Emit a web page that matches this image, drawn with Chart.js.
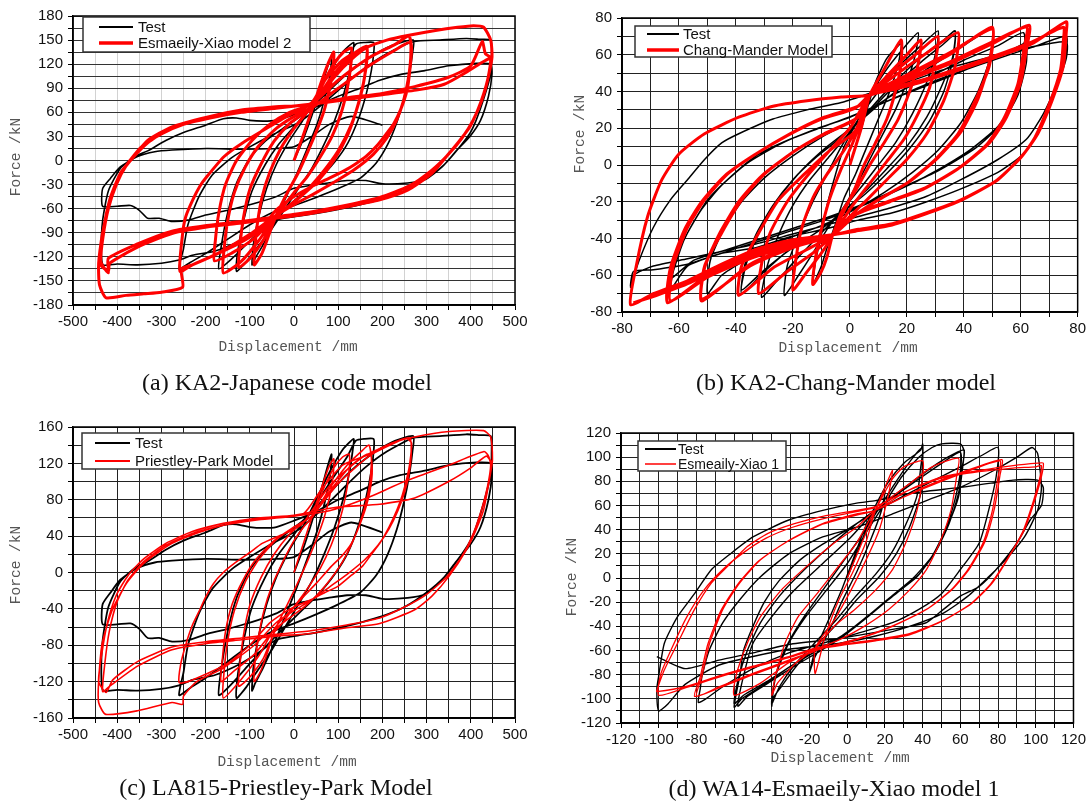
<!DOCTYPE html>
<html>
<head>
<meta charset="utf-8">
<script src="https://cdn.jsdelivr.net/npm/chart.js@4.4.1/dist/chart.umd.min.js"></script>
<style>
body{margin:0;background:#fff}
#page{position:relative;width:1089px;height:801px;overflow:hidden;background:#fff}
canvas{position:absolute}
.t{position:absolute;white-space:nowrap;transform:translate(-50%,-50%)}
.ax{font:14.5px "Liberation Mono","DejaVu Sans Mono",monospace;color:#555}
.yt{transform:translate(-50%,-50%) rotate(-90deg)}
.cap{font:24px "Liberation Serif","Times New Roman",serif;color:#111}
</style>
</head>
<body>
<div id="page">
<canvas id="cA" width="545" height="400" style="left:0;top:0"></canvas>
<canvas id="cB" width="544" height="400" style="left:545px;top:0"></canvas>
<canvas id="cC" width="545" height="401" style="left:0;top:400px"></canvas>
<canvas id="cD" width="544" height="401" style="left:545px;top:400px"></canvas>

<div class="t ax yt" style="left:16px;top:157px">Force /kN</div>
<div class="t ax" style="left:288px;top:347px">Displacement /mm</div>
<div class="t cap" style="left:287px;top:382px">(a) KA2-Japanese code model</div>

<div class="t ax yt" style="left:580px;top:134px">Force /kN</div>
<div class="t ax" style="left:848px;top:348px">Displacement /mm</div>
<div class="t cap" style="left:846px;top:382px">(b) KA2-Chang-Mander model</div>

<div class="t ax yt" style="left:16px;top:565px">Force /kN</div>
<div class="t ax" style="left:287px;top:762px">Displacement /mm</div>
<div class="t cap" style="left:276px;top:787px">(c) LA815-Priestley-Park Model</div>

<div class="t ax yt" style="left:572px;top:577px">Force /kN</div>
<div class="t ax" style="left:840px;top:758px">Displacement /mm</div>
<div class="t cap" style="left:834px;top:788px">(d) WA14-Esmaeily-Xiao model 1</div>
</div>

<script>
// displacement (mm), force (kN), one half cycle per line

// test curve of (a), the same record appears in (c)
const testKA = [
  [0,0],[20,25],[40,55],[60,88],[75,115],[85,130],
  [82,108],[70,78],[52,45],[30,15],[5,-18],[-20,-48],[-45,-78],[-70,-105],[-88,-122],[-95,-130],
  [-92,-105],[-80,-70],[-62,-35],[-40,-5],[-10,25],[20,50],[50,80],[80,110],[110,135],[135,147],
  [133,135],[126,112],[112,82],[92,50],[68,20],[40,-10],[10,-35],[-20,-60],[-50,-85],[-80,-106],[-108,-126],[-130,-138],
  [-127,-112],[-114,-75],[-95,-38],[-65,-5],[-35,20],[0,42],[40,68],[80,98],[120,127],[140,145],[160,147],[180,147],
  [181,138],[175,112],[163,82],[146,52],[122,22],[92,-2],[55,-24],[15,-43],[-25,-62],[-65,-82],[-105,-103],[-140,-122],[-170,-135],
  [-165,-108],[-150,-65],[-130,-28],[-100,3],[-65,24],[-25,40],[20,57],[70,82],[120,108],[170,128],[220,143],[270,150],
  [268,133],[261,108],[249,78],[233,48],[212,20],[186,-3],[150,-22],[100,-35],[50,-46],[0,-56],[-50,-65],[-100,-80],[-150,-98],[-200,-116],[-235,-127],[-260,-135],
  [-250,-110],[-240,-80],[-215,-45],[-185,-18],[-140,4],[-100,17],[-45,33],[10,47],[60,68],[110,92],[160,115],[210,133],[270,148],[330,150],[390,152],[420,151],[445,150],
  [447,130],[445,108],[430,78],[412,50],[398,34],[372,15],[340,-5],[300,-22],[250,-38],[200,-48],[150,-55],[100,-61],[50,-66],[0,-70],[-40,-74],[-80,-88],[-120,-100],[-180,-113],[-230,-118],[-260,-124],[-300,-128],[-354,-130],[-400,-129],[-432,-130],
  [-436,-110],[-433,-75],[-420,-38],[-393,-10],[-360,5],[-331,12],[-290,25],[-250,35],[-200,44],[-160,52],[-130,53],[-100,50],[-70,49],[-40,50],[0,57],[50,67],[100,80],[150,90],[194,100],[240,107],[296,112],[350,118],[413,121],[445,120],
  [448,108],[440,80],[422,50],[398,30],[367,12],[335,-8],[296,-24],[257,-28],[200,-29],[163,-25],[120,-25],[77,-28],[38,-31],[-2,-35],[-40,-45],[-80,-52],[-120,-58],[-158,-63],[-200,-68],[-237,-74],[-276,-76],[-305,-72],[-331,-72],[-350,-62],[-370,-56],[-400,-57],[-433,-57],
  [-433,-35],[-415,-22],[-393,-8],[-354,5],[-315,11],[-276,13],[-197,15],[-119,14],[-41,15],[0,17],[40,30],[80,45],[130,55],[200,44]
];

const modelA = [
  [0,0],[20,30],[40,62],[60,95],[78,122],[90,135],
  [88,112],[80,88],[68,62],[52,38],[32,12],[10,-15],[-15,-40],[-40,-68],[-55,-90],[-72,-115],[-90,-130],
  [-88,-105],[-82,-75],[-72,-45],[-55,-15],[-30,15],[0,40],[25,57],[45,70],[65,95],[90,120],[112,135],[130,140],
  [128,116],[120,88],[106,58],[86,30],[60,5],[30,-20],[0,-40],[-25,-58],[-45,-72],[-70,-100],[-100,-122],[-125,-133],
  [-122,-105],[-114,-70],[-100,-36],[-75,-5],[-45,24],[-10,46],[20,58],[45,70],[80,100],[120,126],[148,138],[165,142],
  [163,118],[155,90],[140,60],[120,30],[90,0],[55,-25],[15,-45],[-20,-60],[-45,-72],[-80,-100],[-120,-126],[-160,-140],
  [-158,-110],[-150,-75],[-135,-40],[-110,-8],[-80,18],[-40,40],[0,55],[40,67],[90,103],[130,126],[165,140],
  [162,112],[150,80],[130,45],[100,12],[60,-18],[20,-42],[-20,-60],[-45,-72],[-90,-97],[-140,-115],[-180,-125],
  [-178,-100],[-170,-65],[-155,-30],[-130,0],[-95,25],[-55,45],[-10,60],[40,70],[100,100],[170,128],[230,145],[260,155],
  [266,140],[262,112],[256,88],[241,63],[225,45],[210,34],[190,20],[163,5],[140,-4],[116,-12],[80,-22],[38,-33],[0,-45],[-41,-62],[-80,-88],[-130,-105],[-180,-118],[-230,-130],[-258,-138],
  [-252,-91],[-245,-70],[-229,-49],[-213,-32],[-197,-20],[-158,5],[-119,21],[-56,42],[-2,59],[38,65],[100,90],[170,118],[230,138],[262,147],
  [264,128],[258,100],[248,75],[232,50],[210,28],[180,8],[140,-10],[100,-24],[50,-40],[0,-55],[-45,-70],[-100,-92],[-170,-115],[-230,-130],[-255,-135],
  [-252,-158],[-300,-164],[-340,-166],[-380,-168],[-425,-171],[-440,-155],[-442,-128],
  [-433,-91],[-417,-49],[-393,-16],[-370,0],[-331,25],[-276,42],[-197,54],[-119,63],[-41,67],[38,71],[70,100],[110,125],[160,140],[210,150],[260,156],[320,162],[370,166],[406,168],[429,166],[445,150],
  [448,129],[440,105],[429,83],[415,62],[398,42],[375,25],[351,9],[312,-16],[257,-37],[194,-49],[116,-58],[38,-66],[-41,-72],[-119,-78],[-197,-83],[-276,-91],[-354,-108],[-417,-128],[-420,-138],[-440,-128],
  [-436,-100],[-425,-70],[-410,-40],[-390,-15],[-365,3],[-331,22],[-290,37],[-240,47],[-180,55],[-119,61],[-41,66],[38,70],[120,78],[194,83],[273,92],[351,104],[400,118],[426,148],[433,133],
  [445,128],[438,100],[425,75],[405,50],[380,28],[350,8],[312,-12],[260,-32],[194,-46],[116,-56],[38,-64],[-41,-70],[-119,-76],[-197,-81],[-276,-88],[-354,-104],[-420,-122],[-420,-140],[-437,-126],
  [-432,-95],[-420,-60],[-402,-30],[-378,-5],[-345,17],[-300,33],[-250,45],[-190,53],[-119,60],[-41,65],[38,70],[120,76],[200,82],[280,88],[340,95],[390,110],[425,122],[445,128]
];

const testB = [
  [0,0],[3,15],[6,30],[9,45],[13,58],[18,66],
  [17,55],[14,40],[10,25],[6,10],[2,-5],[-2,-18],[-5,-32],[-8,-45],[-10,-55],[-13,-65],
  [-12,-52],[-10,-38],[-8,-22],[-5,-5],[-2,10],[2,22],[6,35],[12,50],[18,62],[24,72],
  [23,60],[20,45],[16,30],[11,15],[6,0],[2,-12],[-3,-25],[-8,-35],[-13,-48],[-18,-60],[-23,-71],
  [-22,-55],[-18,-38],[-13,-20],[-8,-5],[-3,10],[3,25],[10,40],[18,55],[25,65],[31,73],
  [30,60],[27,45],[22,28],[16,12],[10,0],[4,-12],[-3,-25],[-10,-37],[-18,-50],[-25,-62],[-31,-72],
  [-29,-55],[-25,-38],[-20,-22],[-14,-8],[-7,5],[0,18],[8,32],[17,47],[26,60],[33,68],[37,73],
  [36,58],[32,42],[27,26],[20,10],[13,-2],[5,-15],[-3,-26],[-12,-37],[-22,-47],[-30,-58],[-38,-70],
  [-37,-55],[-33,-38],[-27,-22],[-20,-8],[-12,4],[-3,15],[5,26],[15,42],[25,56],[33,66],[37,71],
  [36,56],[33,40],[28,24],[21,9],[14,-3],[6,-15],[-2,-25],[-11,-36],[-21,-46],[-30,-57],[-38,-68],
  [-36,-52],[-31,-34],[-25,-18],[-17,-3],[-8,10],[2,22],[12,35],[25,50],[38,63],[50,74],
  [49,57],[45,40],[39,23],[31,8],[22,-4],[12,-15],[2,-24],[-10,-33],[-25,-42],[-37,-52],[-45,-60],[-50,-70],
  [-49,-52],[-44,-34],[-38,-20],[-30,-7],[-20,5],[-9,16],[3,26],[15,38],[28,48],[40,57],[52,65],[61,72],
  [61,54],[58,35],[52,21],[42,8],[27,-6],[15,-15],[3,-23],[-9,-30],[-21,-36],[-33,-42],[-45,-48],[-57,-55],[-63,-68],
  [-62,-58],[-58,-40],[-52,-24],[-45,-11],[-36,1],[-25,11],[-13,19],[0,26],[12,34],[25,42],[38,50],[50,58],[61,66],[62,71],
  [62,56],[59,38],[53,22],[44,9],[30,-4],[17,-13],[5,-21],[-7,-28],[-19,-34],[-31,-40],[-43,-46],[-55,-52],[-63,-62],
  [-62,-55],[-57,-37],[-50,-19],[-43,-8],[-33,5],[-21,14],[-9,21],[3,28],[15,36],[27,44],[39,51],[52,58],[64,64],[76,70],
  [76,62],[75,54],[73,45],[71,35],[66,17],[61,6],[52,-4],[39,-13],[27,-20],[15,-26],[3,-30],[-9,-35],[-21,-39],[-33,-45],[-45,-48],[-57,-54],[-69,-57],[-76,-58],[-77,-66],
  [-74,-52],[-69,-34],[-63,-19],[-57,-8],[-51,3],[-45,12],[-39,17],[-27,25],[-15,30],[-3,34],[9,40],[20,45],[35,53],[50,59],[63,64],[76,67],
  [76,58],[73,45],[68,28],[62,14],[52,3],[39,-8],[27,-17],[15,-23],[3,-28],[-9,-33],[-21,-38],[-33,-43],[-45,-47],[-57,-51],[-69,-55],[-76,-60],[-77,-67]
];

const modelB = [
  [0,0],[4,20],[7,38],[12,52],[18,68],
  [18,55],[16,40],[13,25],[9,12],[5,0],[2,-12],[-2,-25],[-6,-38],[-8,-50],[-10,-58],[-13,-65],
  [-12,-50],[-10,-35],[-7,-18],[-3,-2],[1,12],[5,28],[7,38],[14,50],[20,60],[25,68],
  [24,55],[21,40],[17,25],[12,12],[7,0],[2,-14],[-3,-26],[-6,-38],[-10,-48],[-15,-58],[-20,-68],
  [-19,-52],[-17,-35],[-13,-18],[-8,-5],[-2,8],[3,22],[7,38],[15,50],[23,60],[31,70],
  [30,56],[28,42],[24,28],[19,14],[13,2],[7,-10],[1,-22],[-6,-38],[-13,-48],[-22,-58],[-32,-70],
  [-31,-54],[-28,-37],[-22,-20],[-15,-6],[-7,8],[0,20],[7,38],[17,50],[27,61],[38,72],
  [37,54],[33,35],[27,17],[20,3],[13,-8],[6,-19],[0,-28],[-6,-38],[-15,-46],[-27,-56],[-39,-71],
  [-38,-55],[-32,-37],[-25,-19],[-16,-5],[-7,8],[1,17],[5,27],[7,38],[20,48],[35,60],[50,75],
  [49,54],[44,35],[38,17],[30,3],[20,-10],[10,-19],[1,-28],[-6,-38],[-20,-44],[-35,-54],[-52,-74],
  [-51,-56],[-46,-38],[-39,-20],[-31,-6],[-20,7],[-10,16],[2,25],[7,38],[20,49],[35,61],[50,74],
  [49,56],[45,36],[39,18],[31,4],[21,-9],[11,-18],[2,-27],[-6,-38],[-20,-45],[-35,-55],[-52,-73],
  [-51,-55],[-45,-37],[-38,-19],[-30,-5],[-19,8],[-9,17],[3,26],[7,38],[20,46],[35,55],[50,66],[63,76],
  [62,63],[60,45],[55,26],[49,12],[39,-1],[27,-12],[15,-19],[3,-26],[-6,-38],[-21,-43],[-35,-50],[-50,-60],[-64,-75],
  [-63,-56],[-58,-35],[-52,-20],[-44,-6],[-34,5],[-22,16],[-10,25],[2,31],[7,38],[20,47],[35,56],[50,67],[62,75],
  [61,62],[59,44],[54,25],[48,11],[38,-2],[26,-13],[14,-20],[2,-27],[-6,-38],[-21,-44],[-35,-51],[-50,-61],[-63,-74],
  [-62,-55],[-57,-34],[-51,-19],[-43,-5],[-33,6],[-21,17],[-9,26],[3,32],[7,38],[15,41],[27,46],[39,52],[52,59],[64,66],[76,78],
  [76,72],[75,54],[71,35],[66,17],[61,6],[52,-8],[39,-19],[27,-26],[15,-32],[3,-35],[-6,-38],[-21,-41],[-33,-46],[-45,-54],[-57,-63],[-69,-70],[-77,-76],
  [-75,-55],[-71,-28],[-66,-8],[-60,6],[-51,17],[-39,26],[-27,32],[-15,35],[-3,37],[7,38],[15,42],[27,47],[39,53],[52,60],[64,67],[75,75],
  [75,68],[74,52],[70,33],[65,15],[60,4],[51,-9],[38,-20],[26,-27],[14,-33],[2,-36],[-6,-38],[-20,-42],[-32,-47],[-44,-55],[-56,-64],[-68,-71],[-76,-75]
];

const modelC = [
  [0,0],[20,30],[40,60],[60,90],[78,115],[90,125],
  [88,105],[80,82],[68,60],[52,38],[30,12],[5,-15],[-20,-40],[-45,-65],[-60,-88],[-75,-108],[-90,-120],
  [-88,-98],[-80,-70],[-68,-42],[-50,-15],[-25,12],[0,35],[25,52],[45,63],[65,90],[90,115],[110,127],[125,130],
  [124,108],[116,82],[102,55],[84,30],[60,5],[30,-18],[0,-38],[-25,-55],[-45,-66],[-70,-95],[-100,-115],[-125,-125],
  [-122,-100],[-114,-68],[-100,-36],[-75,-6],[-45,20],[-10,42],[20,55],[45,64],[80,92],[120,118],[150,132],[170,140],
  [177,113],[172,90],[161,69],[145,48],[130,32],[108,18],[85,7],[50,-12],[15,-30],[-20,-48],[-45,-62],[-80,-92],[-120,-118],[-160,-138],
  [-158,-108],[-150,-75],[-135,-42],[-110,-10],[-80,14],[-40,36],[0,50],[40,62],[90,95],[130,118],[165,130],[175,128],
  [172,100],[160,72],[140,42],[110,12],[70,-15],[30,-35],[-10,-50],[-45,-63],[-90,-90],[-140,-110],[-165,-120],
  [-162,-95],[-155,-65],[-140,-35],[-115,-8],[-85,15],[-45,35],[0,50],[40,62],[100,98],[170,128],[230,143],[256,147],[266,142],
  [262,120],[256,105],[245,85],[233,69],[215,50],[194,32],[175,20],[155,7],[130,-3],[100,-15],[70,-22],[38,-30],[0,-38],[-25,-45],[-56,-56],[-100,-80],[-150,-100],[-200,-112],[-240,-120],[-260,-121],
  [-256,-100],[-244,-78],[-230,-58],[-213,-41],[-200,-27],[-182,-12],[-160,0],[-135,10],[-100,22],[-72,32],[-35,40],[-2,47],[20,54],[80,95],[150,125],[210,140],[262,148],
  [265,130],[260,108],[250,88],[235,68],[215,48],[190,30],[160,14],[120,-2],[80,-16],[40,-30],[0,-42],[-40,-55],[-90,-80],[-160,-105],[-220,-120],[-250,-136],
  [-252,-145],[-276,-143],[-354,-152],[-426,-156],[-442,-143],[-442,-120],
  [-434,-78],[-411,-41],[-379,-12],[-340,10],[-276,32],[-197,47],[-119,56],[-41,61],[22,65],[60,90],[110,118],[177,131],[220,142],[273,149],[351,155],[429,156],[445,149],
  [449,124],[445,110],[429,69],[410,45],[390,25],[351,-4],[312,-26],[273,-41],[194,-56],[116,-61],[38,-67],[-41,-70],[-119,-74],[-197,-78],[-276,-85],[-354,-103],[-417,-125],[-433,-131],
  [-428,-100],[-418,-65],[-400,-32],[-375,-8],[-340,12],[-290,30],[-230,43],[-160,52],[-80,58],[0,62],[80,68],[155,80],[250,100],[350,118],[430,133],[440,128],
  [445,118],[438,95],[425,70],[405,42],[380,18],[345,-5],[300,-24],[250,-38],[194,-50],[116,-58],[38,-64],[-41,-68],[-119,-72],[-197,-76],[-276,-82],[-354,-98],[-410,-118],[-425,-132],[-442,-120],
  [-435,-90],[-422,-55],[-402,-25],[-375,-3],[-340,15],[-290,32],[-230,45],[-160,54],[-80,60],[0,63],[100,72],[194,75],[273,82],[350,100],[400,115],[435,128],[449,120]
];

const testD = [
  [0,0],[5,20],[10,40],[15,60],[20,72],
  [18,55],[12,30],[5,5],[-3,-20],[-10,-45],[-17,-65],[-20,-78],
  [-17,-60],[-10,-35],[-3,-10],[3,15],[9,40],[15,60],[22,80],[30,95],[39,106],[40,111],
  [40,97],[39,70],[33,42],[26,20],[17,1],[5,-18],[-5,-37],[-17,-57],[-27,-73],[-35,-90],[-40,-101],[-40,-106],
  [-39,-90],[-36,-70],[-30,-50],[-22,-30],[-12,-8],[-2,14],[8,36],[17,58],[26,80],[34,98],[40,108],
  [39,92],[37,68],[31,44],[24,22],[15,3],[4,-16],[-6,-35],[-18,-55],[-28,-72],[-36,-90],[-40,-104],
  [-38,-81],[-31,-54],[-22,-32],[-11,-10],[0,12],[11,40],[20,62],[29,84],[38,100],[45,108],[50,111],[60,111],[62,105],
  [61,89],[59,67],[53,42],[46,20],[37,1],[24,-15],[11,-32],[-2,-48],[-13,-59],[-28,-73],[-42,-87],[-53,-98],[-58,-106],
  [-55,-81],[-50,-54],[-40,-32],[-28,-10],[-13,12],[2,34],[15,56],[33,78],[51,98],[62,106],
  [61,92],[59,70],[54,45],[47,22],[38,3],[25,-14],[12,-30],[-1,-46],[-14,-58],[-29,-72],[-43,-86],[-55,-97],[-60,-104],
  [-58,-85],[-53,-60],[-46,-37],[-36,-15],[-22,8],[-8,28],[5,45],[20,62],[38,82],[52,97],[60,104],
  [60,88],[57,64],[52,40],[45,18],[35,0],[22,-17],[9,-34],[-4,-49],[-16,-60],[-30,-73],[-44,-88],[-56,-100],[-60,-107],
  [-57,-81],[-55,-60],[-50,-40],[-44,-20],[-36,-2],[-25,15],[-13,28],[0,40],[15,55],[30,68],[45,80],[60,92],[72,102],[80,108],
  [79,84],[75,56],[70,29],[60,7],[50,-13],[38,-26],[24,-37],[5,-46],[-13,-54],[-31,-62],[-50,-75],[-66,-90],[-75,-100],[-79,-103],
  [-78,-92],[-77,-81],[-73,-59],[-66,-37],[-57,-18],[-46,1],[-31,20],[-13,34],[5,42],[24,53],[42,64],[60,75],[79,90],[90,100],[98,108],[101,103],
  [103,75],[101,56],[94,34],[84,15],[75,1],[64,-15],[51,-29],[33,-40],[15,-48],[-4,-54],[-31,-59],[-50,-65],[-68,-72],[-86,-88],[-95,-104],[-100,-110],
  [-101,-92],[-100,-81],[-97,-54],[-90,-32],[-81,-13],[-72,7],[-62,20],[-50,34],[-31,48],[-13,56],[5,62],[15,64],[33,70],[60,75],[88,81],[101,81],[104,75],
  [103,60],[97,48],[90,29],[79,7],[70,-7],[60,-15],[51,-26],[42,-37],[33,-40],[15,-45],[-4,-50],[-31,-55],[-50,-62],[-68,-68],[-86,-75],[-101,-65]
];

const modelD = [
  [0,0],[8,30],[15,56],[20,75],[24,89],
  [22,70],[17,40],[10,15],[2,-10],[-7,-35],[-17,-58],[-17,-79],
  [-12,-50],[-5,-20],[3,5],[10,30],[15,56],[24,82],[30,92],[40,97],
  [40,84],[37,56],[31,29],[24,7],[15,-10],[4,-26],[-7,-40],[-17,-58],[-27,-70],[-37,-87],[-40,-97],
  [-38,-81],[-33,-54],[-26,-32],[-16,-13],[-5,9],[5,29],[15,56],[33,78],[45,92],[59,99],
  [58,84],[55,56],[49,29],[42,7],[33,-10],[22,-26],[9,-40],[-4,-51],[-15,-58],[-31,-70],[-46,-87],[-60,-97],
  [-59,-81],[-53,-54],[-46,-32],[-35,-10],[-22,9],[-7,29],[5,42],[15,56],[42,75],[60,86],[81,97],
  [80,84],[77,56],[72,29],[64,7],[55,-10],[42,-26],[24,-40],[5,-51],[-13,-58],[-31,-68],[-50,-79],[-68,-90],[-80,-98],
  [-77,-81],[-73,-54],[-66,-26],[-57,-4],[-46,15],[-31,31],[-13,45],[5,53],[15,56],[42,76],[60,87],[82,98],
  [81,85],[78,57],[73,30],[65,8],[56,-9],[43,-25],[25,-39],[6,-50],[-13,-58],[-31,-69],[-50,-80],[-68,-91],[-81,-98],
  [-78,-82],[-74,-55],[-67,-27],[-58,-5],[-47,14],[-32,30],[-14,44],[5,52],[15,56],[33,73],[51,84],[70,89],[88,93],[101,95],[104,95],
  [103,84],[99,62],[94,40],[86,18],[77,-4],[66,-21],[51,-35],[33,-46],[15,-51],[-4,-55],[-17,-58],[-31,-65],[-50,-73],[-68,-81],[-86,-90],[-101,-94],
  [-101,-93],[-97,-76],[-90,-54],[-81,-26],[-72,-4],[-62,12],[-53,26],[-42,37],[-28,45],[-13,51],[5,56],[15,59],[33,73],[51,83],[70,88],[88,91],[100,92],[103,93],
  [102,82],[98,60],[93,38],[85,16],[76,-5],[65,-22],[50,-36],[33,-47],[15,-52],[-4,-56],[-17,-59],[-31,-66],[-50,-74],[-68,-82],[-86,-91],[-100,-97],
  [-99,-80],[-93,-58],[-85,-32],[-76,-10],[-66,7],[-55,21],[-43,33],[-29,42],[-13,49],[5,55],[15,58]
];

Chart.defaults.font.family = '"Liberation Sans", Arial, sans-serif';
Chart.defaults.font.size = 15;
Chart.defaults.color = '#111';

// legend box drawn inside the plot, like the original figure
const boxLegend = {
  id: 'boxLegend',
  afterDraw(chart, args, o) {
    const c = chart.ctx;
    c.save();
    c.fillStyle = '#fff';
    c.fillRect(o.x, o.y, o.w, o.h);
    c.strokeStyle = '#333';
    c.lineWidth = 1.5;
    c.strokeRect(o.x, o.y, o.w, o.h);
    c.font = o.size + 'px "Liberation Sans", Arial, sans-serif';
    c.textBaseline = 'middle';
    chart.data.datasets.forEach((ds, i) => {
      const y = o.rows[i];
      c.strokeStyle = ds.borderColor;
      c.lineWidth = o.widths[i];
      c.beginPath();
      c.moveTo(o.lx0, y);
      c.lineTo(o.lx1, y);
      c.stroke();
      c.fillStyle = '#111';
      c.fillText(ds.label, o.tx, y + 1);
    });
    c.restore();
  }
};

const frame = {
  id: 'frame',
  afterDatasetsDraw(chart) {
    const a = chart.chartArea, c = chart.ctx;
    c.save();
    c.strokeStyle = '#000';
    c.lineWidth = 1.5;
    c.strokeRect(a.left, a.top, a.right - a.left, a.bottom - a.top);
    c.restore();
  }
};

const pts = arr => arr.map(p => ({ x: p[0], y: p[1] }));
const every = n => v => (v % n === 0 ? String(v) : '');

function plot(id, p) {
  return new Chart(document.getElementById(id), {
    type: 'scatter',
    data: {
      datasets: [
        { label: 'Test', data: pts(p.test), borderColor: '#000', borderWidth: p.testW,
          showLine: true, pointRadius: 0, tension: 0.2, order: 2, borderJoinStyle: 'round' },
        { label: p.modelLabel, data: pts(p.model), borderColor: '#ff0000', borderWidth: p.modelW,
          showLine: true, pointRadius: 0, tension: 0.2, order: 1, borderJoinStyle: 'round' }
      ]
    },
    options: {
      animation: false,
      responsive: false,
      events: [],
      layout: { padding: { left: 0, right: p.padR, top: p.padT, bottom: p.padB } },
      plugins: { legend: { display: false }, tooltip: { enabled: false }, boxLegend: p.legend },
      scales: {
        x: {
          type: 'linear', min: p.x[0], max: p.x[1],
          afterFit: s => { s.height = 40; },
          ticks: { stepSize: p.x[2], autoSkip: false, maxRotation: 0, padding: 3, callback: every(p.x[3]) },
          grid: { color: p.xGrid, tickColor: '#000', tickLength: 5, lineWidth: 1 },
          border: { color: '#000', width: 1.5 }
        },
        y: {
          type: 'linear', min: p.y[0], max: p.y[1],
          afterFit: s => { s.width = p.yW; },
          ticks: { stepSize: p.y[2], autoSkip: false, padding: 5, callback: every(p.y[3]) },
          grid: { color: p.yGrid, tickColor: '#000', tickLength: 5, lineWidth: 1 },
          border: { color: '#000', width: 1.5 }
        }
      }
    },
    plugins: [frame, boxLegend]
  });
}

plot('cA', {
  test: testKA, model: modelA, modelLabel: 'Esmaeily-Xiao model 2', testW: 1.6, modelW: 3,
  x: [-500, 500, 50, 100], y: [-180, 180, 15, 30], xGrid: '#d2d2d2', yGrid: '#333',
  yW: 73, padR: 30, padT: 16, padB: 55,
  legend: { x: 83, y: 17, w: 227, h: 35, lx0: 99, lx1: 133, tx: 138, rows: [27, 43], widths: [2, 3.5], size: 15 }
});

plot('cB', {
  test: testB, model: modelB, modelLabel: 'Chang-Mander Model', testW: 1.5, modelW: 3,
  x: [-80, 80, 10, 20], y: [-80, 80, 10, 20], xGrid: '#222', yGrid: '#222',
  yW: 77, padR: 11, padT: 18, padB: 48,
  legend: { x: 90, y: 26, w: 197, h: 31, lx0: 102, lx1: 134, tx: 138, rows: [34, 50], widths: [2, 3.5], size: 15 }
});

plot('cC', {
  test: testKA, model: modelC, modelLabel: 'Priestley-Park Model', testW: 1.8, modelW: 1.6,
  x: [-500, 500, 50, 100], y: [-160, 160, 20, 40], xGrid: '#222', yGrid: '#222',
  yW: 73, padR: 30, padT: 27, padB: 43,
  legend: { x: 82, y: 33, w: 207, h: 36, lx0: 95, lx1: 130, tx: 135, rows: [43, 61], widths: [2, 2], size: 15 }
});

plot('cD', {
  test: testD, model: modelD, modelLabel: 'Esmeaily-Xiao 1', testW: 1.4, modelW: 1.3,
  x: [-120, 120, 10, 20], y: [-120, 120, 10, 20], xGrid: '#222', yGrid: '#222',
  yW: 76, padR: 15, padT: 33, padB: 38,
  legend: { x: 93, y: 41, w: 148, h: 30, lx0: 100, lx1: 131, tx: 133, rows: [49, 64], widths: [2, 1.5], size: 14 }
});
</script>
</body>
</html>
